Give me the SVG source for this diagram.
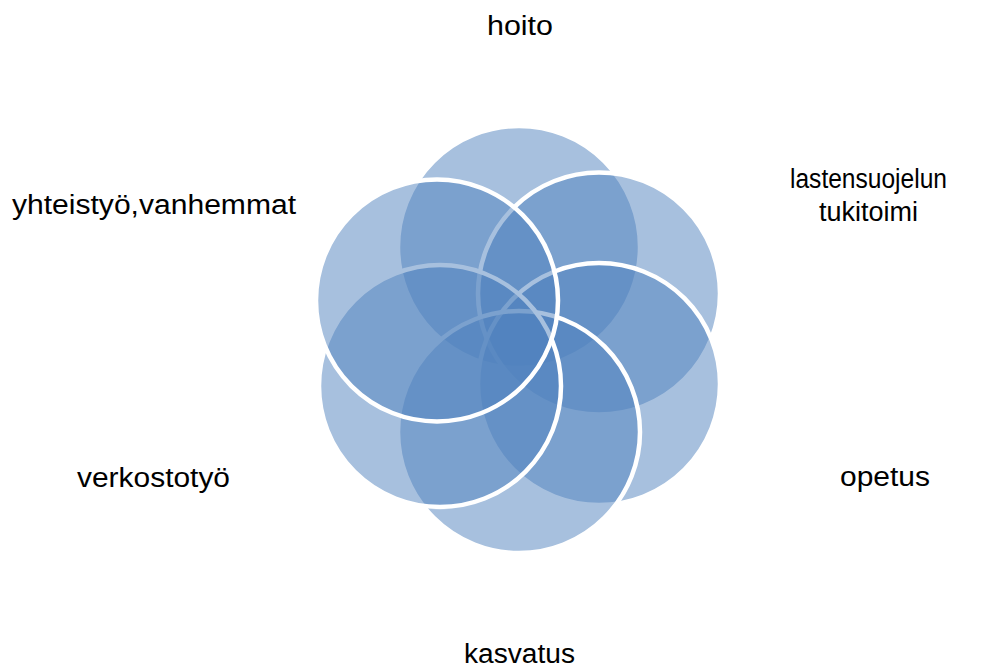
<svg xmlns="http://www.w3.org/2000/svg" width="987" height="666" viewBox="0 0 987 666">
<style>
.c{fill:#4F81BD;fill-opacity:0.5;stroke:#FFFFFF;stroke-width:4.5}
.t{font-family:"Liberation Sans",Arial,sans-serif;font-size:27px;fill:#000000}
</style>
<rect width="987" height="666" fill="#FFFFFF"/>
<g id="node-hoito"><circle class="c" cx="519" cy="247" r="121"/></g>
<g id="node-lastensuojelun"><circle class="c" cx="599" cy="293.5" r="121"/></g>
<g id="node-opetus"><circle class="c" cx="599" cy="384" r="121"/></g>
<g id="node-kasvatus"><circle class="c" cx="519" cy="432" r="121"/></g>
<g id="node-verkostotyo"><circle class="c" cx="440" cy="386" r="121"/></g>
<g id="node-yhteistyo"><circle class="c" cx="437" cy="300.5" r="121"/></g>
<g id="connectors"></g>
<g id="labels">
<text class="t" x="487" y="35" textLength="66" lengthAdjust="spacingAndGlyphs">hoito</text>
<text class="t" x="790" y="188" textLength="157" lengthAdjust="spacingAndGlyphs">lastensuojelun</text>
<text class="t" x="819" y="221" textLength="99" lengthAdjust="spacingAndGlyphs">tukitoimi</text>
<text class="t" x="12" y="214" textLength="284" lengthAdjust="spacingAndGlyphs">yhteistyö,vanhemmat</text>
<text class="t" x="840" y="486" textLength="90" lengthAdjust="spacingAndGlyphs">opetus</text>
<text class="t" x="77" y="487" textLength="153" lengthAdjust="spacingAndGlyphs">verkostotyö</text>
<text class="t" x="464" y="663" textLength="111" lengthAdjust="spacingAndGlyphs">kasvatus</text>
</g>
</svg>
